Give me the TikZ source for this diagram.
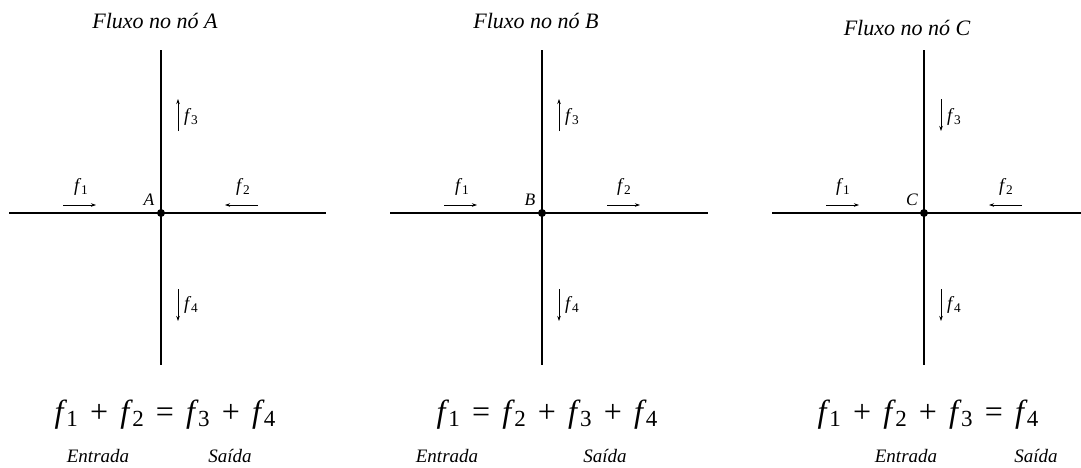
\documentclass[tikz,border=0pt]{standalone}
\usepackage{fontspec}
\usepackage{graphicx}
\setmainfont{Liberation Serif}
\usetikzlibrary{arrows.meta}
\newcommand\fx[1]{\textit{f}\kern-.02em\raisebox{-.3ex}{\scalebox{0.72}{#1}}}
\newcommand\gap{\hspace{0.38em}}
\tikzset{
  wire/.style={line width=2pt},
  flow/.style={line width=0.7pt,-{Stealth[length=5pt,width=3.5pt]}},
  dotnode/.style={circle,fill=black,inner sep=0pt,minimum size=8pt},
  ttl/.style={font=\fontsize{22}{24}\selectfont\itshape},
  flab/.style={font=\fontsize{18.5}{20}\selectfont},
  plab/.style={font=\fontsize{17.5}{19}\selectfont\itshape},
  eqn/.style={font=\fontsize{32}{36}\selectfont,anchor=base},
  io/.style={font=\fontsize{19}{21}\selectfont\itshape},
}
\begin{document}
\begin{tikzpicture}[x=1pt,y=-1pt]
\useasboundingbox (0,0) rectangle (1081,467);
% ---------- Node A ----------
\node[dotnode] (A) at (161,213) {};
\coordinate (Al) at (9,213); \coordinate (Ar) at (326,213);
\coordinate (At) at (161,50); \coordinate (Ab) at (161,365);
\draw[wire] (Al) -- (Ar); \draw[wire] (At) -- (Ab);
\node[ttl] (tA) at (155,21) {Fluxo no nó A};
\node[plab] (lA) at (149,200) {A};
\coordinate (a1s) at (63,205); \coordinate (a1e) at (96,205);
\draw[flow] (a1s) -- (a1e); \node[flab] (fa1) at (81,187) {\fx1};
\coordinate (a2s) at (258,205); \coordinate (a2e) at (225,205);
\draw[flow] (a2s) -- (a2e); \node[flab] (fa2) at (243,187) {\fx2};
\coordinate (a3s) at (178,131); \coordinate (a3e) at (178,99);
\draw[flow] (a3s) -- (a3e); \node[flab] (fa3) at (191,117) {\fx3};
\coordinate (a4s) at (178,289); \coordinate (a4e) at (178,321);
\draw[flow] (a4s) -- (a4e); \node[flab] (fa4) at (191,305) {\fx4};
\node[eqn] (eA) at (165,422) {\fx1\gap+\gap\fx2\gap=\gap\fx3\gap+\gap\fx4};
\node[io] (inA) at (98,456) {Entrada};
\node[io] (outA) at (230,456) {Saída};
% ---------- Node B ----------
\node[dotnode] (B) at (542,213) {};
\coordinate (Bl) at (390,213); \coordinate (Br) at (708,213);
\coordinate (Bt) at (542,50); \coordinate (Bb) at (542,365);
\draw[wire] (Bl) -- (Br); \draw[wire] (Bt) -- (Bb);
\node[ttl] (tB) at (536,21) {Fluxo no nó B};
\node[plab] (lB) at (530,200) {B};
\coordinate (b1s) at (444,205); \coordinate (b1e) at (477,205);
\draw[flow] (b1s) -- (b1e); \node[flab] (fb1) at (462,187) {\fx1};
\coordinate (b2s) at (607,205); \coordinate (b2e) at (640,205);
\draw[flow] (b2s) -- (b2e); \node[flab] (fb2) at (624,187) {\fx2};
\coordinate (b3s) at (559,131); \coordinate (b3e) at (559,99);
\draw[flow] (b3s) -- (b3e); \node[flab] (fb3) at (572,117) {\fx3};
\coordinate (b4s) at (559,289); \coordinate (b4e) at (559,321);
\draw[flow] (b4s) -- (b4e); \node[flab] (fb4) at (572,305) {\fx4};
\node[eqn] (eB) at (547,422) {\fx1\gap=\gap\fx2\gap+\gap\fx3\gap+\gap\fx4};
\node[io] (inB) at (447,456) {Entrada};
\node[io] (outB) at (605,456) {Saída};
% ---------- Node C ----------
\node[dotnode] (C) at (924,213) {};
\coordinate (Cl) at (772,213); \coordinate (Cr) at (1081,213);
\coordinate (Ct) at (924,50); \coordinate (Cb) at (924,365);
\draw[wire] (Cl) -- (Cr); \draw[wire] (Ct) -- (Cb);
\node[ttl] (tC) at (907,28) {Fluxo no nó C};
\node[plab] (lC) at (912,200) {C};
\coordinate (c1s) at (826,205); \coordinate (c1e) at (859,205);
\draw[flow] (c1s) -- (c1e); \node[flab] (fc1) at (843,187) {\fx1};
\coordinate (c2s) at (1022,205); \coordinate (c2e) at (989,205);
\draw[flow] (c2s) -- (c2e); \node[flab] (fc2) at (1006,187) {\fx2};
\coordinate (c3s) at (941,99); \coordinate (c3e) at (941,131);
\draw[flow] (c3s) -- (c3e); \node[flab] (fc3) at (954,117) {\fx3};
\coordinate (c4s) at (941,289); \coordinate (c4e) at (941,321);
\draw[flow] (c4s) -- (c4e); \node[flab] (fc4) at (954,305) {\fx4};
\node[eqn] (eC) at (928,422) {\fx1\gap+\gap\fx2\gap+\gap\fx3\gap=\gap\fx4};
\node[io] (inC) at (906,456) {Entrada};
\node[io] (outC) at (1036,456) {Saída};
\end{tikzpicture}
\end{document}
